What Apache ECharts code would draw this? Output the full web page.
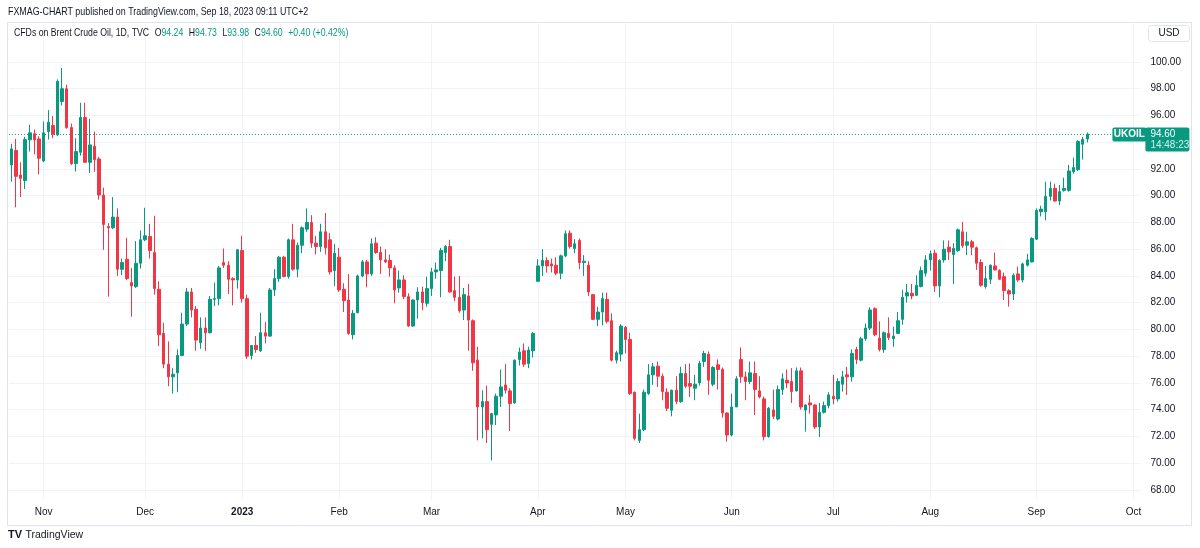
<!DOCTYPE html>
<html>
<head>
<meta charset="utf-8">
<script src="https://cdn.jsdelivr.net/npm/echarts@6/dist/echarts.min.js"></script>
<style>html,body{margin:0;padding:0;background:#fff}#c{width:1200px;height:548px}</style>
</head>
<body>
<div id="c"></div>
<script>
// ---- DATA: daily candles [open, high, low, close] ----
const oct22 = [
[92.3,93.88,91.05,93.5],[93.38,94.25,89.13,91.45],[91.55,92.5,89.9,91.3],[91.13,94.4,90.5,94.2],
[94.18,95.3,93.3,94.7],[94.63,94.95,93.1,94.18],[94.25,94.45,91.6,92.8]];
const nov22 = [
[92.6,95.55,92.5,94.7],[94.8,96.4,94.2,95.5],[95.25,95.95,94.3,94.6],[94.55,98.7,94.45,98.55],
[97.05,99.55,96.75,98.0],[98.0,98.3,95.0,95.1],[95.1,95.4,92.3,92.4],[92.4,94.3,91.8,93.3],
[93.25,96.95,93.0,95.85],[95.85,96.95,92.45,92.5],[92.5,95.75,91.7,93.8],[93.7,94.8,91.8,92.7],
[92.75,92.9,89.7,90.05],[90.05,90.6,85.95,87.85],[87.7,87.95,82.45,87.6],[87.6,89.9,87.5,88.4],
[88.4,89.05,84.0,84.5],[84.5,85.3,84.05,85.0],[85.25,86.85,83.7,83.8],[83.5,84.6,80.95,83.25],
[83.2,86.6,83.1,84.95],[84.95,87.4,84.55,86.7]];
const dec22 = [
[86.7,89.1,86.6,87.0],[86.95,87.9,85.3,85.9],[85.75,88.5,82.6,83.05],[83.0,83.6,78.75,79.6],
[79.7,80.5,77.1,77.4],[77.4,79.1,75.75,76.45],[76.45,77.1,75.2,76.65],[76.75,78.5,75.3,78.05],
[78.05,81.25,78.0,80.4],[80.4,83.1,80.25,82.8],[82.8,83.1,80.9,81.45],[81.5,81.75,78.4,79.2],
[79.0,80.9,78.55,80.1],[80.1,80.9,78.4,79.75],[79.75,82.5,79.7,82.25],[82.25,83.5,81.75,82.3],
[82.3,84.75,81.8,84.6],[85.0,86.05,84.6,84.8],[84.8,85.1,82.65,83.75],[83.8,83.9,81.8,83.7],
[83.7,86.0,83.05,85.95]];
const jan23 = [
[85.9,87.0,82.0,82.3],[82.3,82.6,77.8,78.0],[78.05,78.8,77.75,78.8],[78.8,79.5,78.25,78.5],
[78.4,81.25,78.3,79.75],[79.75,80.55,78.95,79.5],[79.5,83.1,79.45,82.95],[82.95,84.5,82.5,83.8],
[83.8,85.5,83.55,85.4],[85.4,85.5,83.9,83.95],[83.95,86.8,83.8,86.7],[86.7,87.9,84.4,84.5],
[84.5,86.5,83.9,86.3],[86.3,87.7,85.7,87.6],[87.5,89.05,87.3,88.0],[88.0,88.55,86.1,86.45],
[86.45,87.0,85.6,86.2],[86.2,87.9,85.8,87.3],[87.3,88.7,85.6,86.1],[86.7,87.2,84.1,84.3],
[84.4,86.4,83.25,85.7]];
const feb23 = [
[85.4,86.1,82.8,82.95],[83.0,83.45,81.3,82.15],[82.2,84.15,79.6,79.7],[79.6,81.45,79.25,81.2],
[81.25,84.1,81.2,84.0],[84.0,85.2,83.9,85.05],[85.05,85.2,83.15,84.15],[84.15,86.8,84.0,86.4],
[86.45,86.9,85.65,85.75],[85.75,86.2,84.15,85.2],[85.2,86.0,84.95,85.05],[85.15,85.6,83.95,84.6],
[84.6,84.8,81.95,82.95],[83.1,84.4,82.75,83.7],[83.7,84.05,82.25,82.45],[82.45,82.7,80.2,80.25],
[80.25,82.25,80.2,82.2],[82.2,83.15,80.8,82.8],[82.8,83.2,81.45,82.0],[81.95,83.95,81.7,83.05]];
const mar23 = [
[83.05,84.6,82.5,84.3],[84.3,85.0,83.8,84.45],[84.4,86.1,82.4,85.9],[85.75,86.3,85.1,86.2],
[86.2,86.7,82.75,82.8],[82.9,83.95,82.1,82.4],[82.4,84.0,81.25,81.4],[81.45,83.1,80.7,82.6],
[82.5,83.4,78.4,80.7],[80.65,80.75,76.9,77.5],[77.7,78.7,71.7,74.2],[74.2,75.45,71.85,74.6],
[74.6,75.8,71.5,72.5],[72.9,73.75,70.2,73.7],[73.6,75.2,72.85,75.0],[75.0,77.0,74.2,75.7],
[75.85,77.4,75.2,75.45],[75.4,75.6,72.4,74.45],[74.5,77.75,74.45,77.7],[77.75,78.65,77.3,78.3],
[78.4,78.95,77.2,77.4],[77.45,78.7,77.1,78.45],[78.4,79.8,77.9,79.7]];
const apr23 = [
[83.6,85.25,83.55,84.75],[84.75,86.0,84.0,85.15],[85.15,85.4,84.25,84.75],[84.9,85.3,84.25,84.75],
[84.8,85.4,84.05,84.2],[84.2,85.6,83.75,85.5],[85.5,87.4,85.4,87.15],[87.2,87.4,86.05,86.2],
[86.05,86.75,85.7,86.4],[86.65,86.8,84.5,85.0],[85.0,85.55,84.0,85.1],[84.8,85.1,82.5,82.8],
[82.6,82.65,80.7,80.75],[80.75,81.7,80.25,81.3],[81.3,82.75,80.3,82.3],[82.25,82.75,80.45,80.6],
[80.65,81.2,77.6,77.7],[77.7,78.4,77.45,78.25],[78.15,80.4,77.6,80.25]];
const may23 = [
[80.15,80.25,78.2,79.25],[79.25,79.75,75.1,75.2],[75.3,75.35,71.7,71.85],[71.7,73.7,71.5,72.5],
[72.5,75.5,72.4,75.3],[75.2,77.4,75.1,76.6],[76.6,77.5,75.85,77.2],[77.25,77.6,75.7,76.5],
[76.5,76.7,74.7,75.35],[75.3,75.6,73.9,74.1],[73.95,75.5,73.5,75.45],[75.45,76.5,74.4,74.6],
[74.6,77.2,74.5,76.7],[76.7,77.4,75.6,75.75],[75.95,77.45,74.95,75.75],[75.6,76.6,74.7,75.9],
[76.0,77.65,75.8,77.45],[77.6,78.4,77.2,78.2],[78.15,78.35,75.1,76.2],[75.9,77.25,75.75,77.15],
[77.35,77.75,75.5,77.0],[77.0,77.15,73.4,73.75],[73.75,73.8,71.6,72.1]];
const jun23 = [
[72.1,75.2,72.0,74.2],[74.2,76.5,74.2,76.3],[77.75,78.65,76.0,76.45],[76.45,76.85,74.7,76.1],
[76.1,77.6,75.9,76.75],[76.7,77.6,73.6,75.5],[75.4,76.5,74.85,74.95],[74.8,74.97,71.7,71.98],
[71.98,74.2,71.9,74.1],[73.97,75.5,73.3,73.5],[73.3,75.8,73.2,75.5],[75.5,76.7,75.1,76.3],
[76.2,77.0,75.6,76.0],[76.1,77.1,74.5,75.35],[75.4,77.15,75.35,76.9],[76.9,77.15,74.0,74.2],
[73.97,74.4,72.35,74.35],[74.5,75.1,73.7,74.35],[74.35,74.4,72.55,72.7],[72.7,74.5,71.95,73.8],
[73.8,74.6,73.7,74.3],[74.3,75.3,74.1,75.1]];
const jul23 = [
[75.0,76.6,74.4,74.8],[74.8,76.35,74.6,76.1],[75.9,76.9,75.35,76.45],[76.6,77.2,75.1,76.45],
[76.45,78.5,76.1,78.2],[78.5,78.7,77.4,77.75],[77.7,79.45,77.6,79.3],[79.3,80.45,79.15,80.1],
[80.1,81.65,79.95,81.45],[81.55,81.65,79.5,79.6],[79.35,80.6,78.35,78.5],[78.5,79.85,78.25,79.75],
[79.7,80.9,79.2,79.4],[79.3,80.2,78.7,79.5],[79.7,81.3,79.65,80.65],[80.75,82.95,80.35,82.4],
[82.5,83.4,82.0,82.75],[82.7,83.4,82.25,82.5],[82.55,84.05,82.5,83.3],[83.2,84.7,83.15,84.4],
[84.2,85.55,83.95,85.2]];
const aug23 = [
[85.2,85.9,84.4,85.65],[85.7,85.95,82.8,83.25],[83.25,85.25,82.4,85.15],[85.2,86.65,85.0,86.0],
[86.15,86.65,85.2,85.8],[85.6,86.45,83.4,86.05],[85.9,87.55,85.8,87.45],[87.3,88.05,86.1,86.25],
[86.3,87.3,85.55,86.55],[86.55,86.7,85.55,86.15],[86.1,86.2,84.45,84.95],[85.0,85.25,83.2,83.3],
[83.2,84.75,83.05,83.8],[83.75,84.85,83.4,84.8],[84.75,85.75,84.4,84.45],[84.4,84.5,83.7,83.75],
[83.95,84.25,82.2,82.9],[82.9,83.0,81.7,82.65],[82.65,84.2,82.2,84.05],[84.15,84.7,83.55,83.7],
[83.7,84.99,83.5,84.9],[84.8,85.65,84.7,85.2],[85.05,86.9,85.0,86.8]];
const sep23 = [
[86.75,89.05,86.7,88.9],[88.8,89.25,88.45,89.0],[88.8,91.05,88.15,89.95],[89.95,91.05,89.65,90.55],
[90.55,90.9,89.55,89.6],[89.6,90.8,89.3,90.3],[90.4,91.35,90.3,90.55],[90.4,92.3,90.3,91.85],
[91.8,92.85,91.65,92.1],[91.95,94.15,91.85,94.05],[93.85,94.4,92.7,94.2],[94.24,94.73,93.98,94.6]];

// trading calendar (weekdays minus exchange holidays); the axis runs a little past the last bar
const firstDay = '2022-10-21';
const lastAxisDay = '2023-10-03';
const holidays = ['2022-12-26', '2023-01-02', '2023-04-07'];
const monthNames = ['Jan','Feb','Mar','Apr','May','Jun','Jul','Aug','Sep','Oct','Nov','Dec'];
const yTicks = {min: 68, max: 102, step: 2};
const symbol = 'UKOIL';
const countdown = '14:48:23';

function tradingDays(from, to, skip) {
  const out = [];
  const d = new Date(from + 'T00:00:00Z');
  const end = new Date(to + 'T00:00:00Z');
  while (d <= end) {
    const wd = d.getUTCDay();
    const s = d.toISOString().slice(0, 10);
    if (wd !== 0 && wd !== 6 && skip.indexOf(s) < 0) out.push(s);
    d.setUTCDate(d.getUTCDate() + 1);
  }
  return out;
}
const dates = tradingDays(firstDay, lastAxisDay, holidays);
const bars = [].concat(oct22, nov22, dec22, jan23, feb23, mar23, apr23, may23, jun23, jul23, aug23, sep23);
const candleData = bars.map(b => [b[0], b[3], b[2], b[1]]); // open, close, low, high
const last = bars[bars.length - 1];
const prevClose = bars[bars.length - 2][3];
const change = last[3] - prevClose;

const isMonthStart = (i) => i > 0 && dates[i].slice(0, 7) !== dates[i - 1].slice(0, 7);
const monthLabel = (v) => {
  const m = +v.slice(5, 7);
  return m === 1 ? '{b|' + v.slice(0, 4) + '}' : monthNames[m - 1];
};

const UP = '#089981', DOWN = '#F23645', TXT = '#131722', GRIDC = '#f0f3fa';
const FONT = '"Liberation Sans", Arial, sans-serif';

const chart = echarts.init(document.getElementById('c'), null, {renderer: 'canvas'});
const gridL = 9, gridR = 59.6;
chart.setOption({
  animation: false,
  backgroundColor: '#ffffff',
  textStyle: {fontFamily: FONT},
  grid: [
    {left: gridL, right: gridR, top: 35.26, bottom: 58.16},
    {left: gridL, right: gridR, top: 22, bottom: 48}
  ],
  xAxis: [
    {type: 'category', gridIndex: 0, data: dates, boundaryGap: true, show: false},
    {type: 'category', gridIndex: 1, data: dates, boundaryGap: true,
     axisLine: {show: false}, axisTick: {show: false},
     axisLabel: {interval: (i) => isMonthStart(i), formatter: monthLabel, color: TXT,
                 fontSize: 10, margin: 7, fontFamily: FONT,
                 rich: {b: {fontWeight: 'bold', fontSize: 10, color: TXT, fontFamily: FONT}}},
     splitLine: {show: true, interval: (i) => isMonthStart(i), alignWithLabel: true,
                 lineStyle: {color: GRIDC, width: 1}}}
  ],
  yAxis: [
    {type: 'value', gridIndex: 0, position: 'right', min: yTicks.min, max: yTicks.max, interval: yTicks.step,
     axisLine: {show: false}, axisTick: {show: false},
     axisLabel: {color: TXT, fontSize: 10, margin: 10, fontFamily: FONT,
                 formatter: (v) => (v >= yTicks.max ? '' : v.toFixed(2))},
     splitLine: {show: true, showMaxLine: false, lineStyle: {color: GRIDC, width: 1}}},
    {type: 'value', gridIndex: 1, min: 0, max: 1, show: false}
  ],
  series: [
    {type: 'candlestick', xAxisIndex: 0, yAxisIndex: 0, data: candleData, barWidth: 3,
     itemStyle: {color: UP, color0: DOWN, borderColor: UP, borderColor0: DOWN, borderWidth: 1}},
    {type: 'line', xAxisIndex: 1, yAxisIndex: 1, data: [], silent: true}
  ]
});

const py = Math.round(chart.convertToPixel({yAxisIndex: 0}, last[3])) + 0.5;
const axisX = chart.getWidth() - gridR;
chart.setOption({
  graphic: [
    {type: 'rect', silent: true, z: -1, shape: {x: 7.5, y: 22.5, width: 1184, height: 503},
     style: {fill: 'none', stroke: '#e0e3eb', lineWidth: 1}},
    {type: 'line', silent: true, z: 50, shape: {x1: gridL, y1: py, x2: axisX - 28, y2: py},
     style: {stroke: UP, lineWidth: 1, lineDash: [1, 2], opacity: 0.9}},
    {type: 'text', x: 8, y: 12, scaleX: 0.845, silent: true,
     style: {text: 'FXMAG-CHART published on TradingView.com, Sep 18, 2023 09:11 UTC+2',
             fill: TXT, font: '10.5px ' + FONT, textVerticalAlign: 'middle'}},
    {type: 'text', x: 14, y: 33, scaleX: 0.83, silent: true,
     style: {text: '{n|CFDs on Brent Crude Oil, 1D, TVC}  {k|O}{v|' + last[0].toFixed(2) + '}  {k|H}{v|' +
             last[1].toFixed(2) + '}  {k|L}{v|' + last[2].toFixed(2) + '}  {k|C}{v|' + last[3].toFixed(2) +
             '}  {v|+' + change.toFixed(2) + ' (+' + (change / prevClose * 100).toFixed(2) + '%)}',
             textVerticalAlign: 'middle',
             rich: {n: {fill: TXT, fontSize: 10.5, fontFamily: FONT},
                    k: {fill: TXT, fontSize: 10.5, fontFamily: FONT},
                    v: {fill: UP, fontSize: 10.5, fontFamily: FONT}}}},
    {type: 'group', silent: true, z: 100, children: [
      {type: 'rect', z: 100, shape: {x: 1148.5, y: 25.5, width: 41, height: 16, r: 3},
       style: {fill: '#fff', stroke: '#e0e3eb', lineWidth: 1}},
      {type: 'text', z: 101, x: 1169, y: 33.5, style: {text: 'USD', fill: TXT, font: '10px ' + FONT,
       textAlign: 'center', textVerticalAlign: 'middle'}}
    ]},
    {type: 'group', silent: true, z: 100, children: [
      {type: 'rect', z: 100, shape: {x: axisX - 28, y: py - 7, width: 34, height: 14, r: 2}, style: {fill: UP}},
      {type: 'text', z: 101, x: axisX - 11, y: py, style: {text: symbol, fill: '#fff', font: 'bold 10px ' + FONT,
       textAlign: 'center', textVerticalAlign: 'middle'}},
      {type: 'rect', z: 100, shape: {x: axisX + 5, y: py - 7, width: 44, height: 24, r: 2}, style: {fill: UP}},
      {type: 'text', z: 101, x: axisX + 10, y: py, style: {text: last[3].toFixed(2), fill: '#fff', font: '10px ' + FONT,
       textAlign: 'left', textVerticalAlign: 'middle'}},
      {type: 'text', z: 101, x: axisX + 10, y: py + 11, style: {text: countdown, fill: '#d7f0ea', font: '10px ' + FONT,
       textAlign: 'left', textVerticalAlign: 'middle'}}
    ]},
    {type: 'text', x: 8, y: 535, silent: true,
     style: {text: '{l|TV} {t|TradingView}', textVerticalAlign: 'middle',
             rich: {l: {fill: TXT, fontSize: 11, fontWeight: 'bold', fontFamily: FONT},
                    t: {fill: TXT, fontSize: 10.5, fontFamily: FONT}}}}
  ]
});
</script>
</body>
</html>
